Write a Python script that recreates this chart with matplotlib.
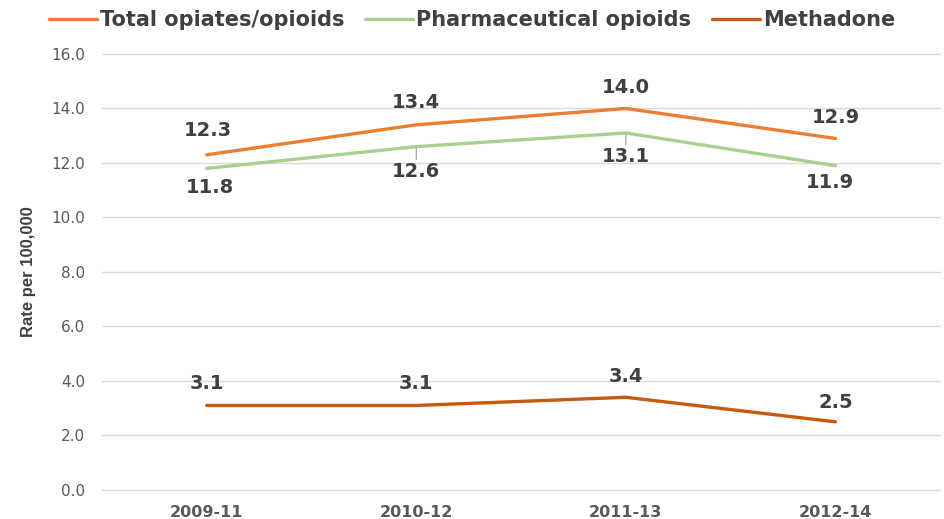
import matplotlib.pyplot as plt

periods = ["2009-11", "2010-12", "2011-13", "2012-14"]
total_opioids = [12.3, 13.4, 14.0, 12.9]
pharma_opioids = [11.8, 12.6, 13.1, 11.9]
methadone = [3.1, 3.1, 3.4, 2.5]

# label offsets in pixels (dx, dy) relative to each point
total_offsets = [(1, 24), (0, 22), (0, 21), (0, 21)]
pharma_offsets = [(3, -19), (0, -25), (0, -24), (-6, -17)]
methadone_offsets = [(0, 22), (0, 22), (0, 21), (0, 19)]

c_total = "#ED7D31"
c_pharma = "#A9D18E"
c_meth = "#C55A11"
label_color = "#404040"
tick_color = "#595959"
narrow = ["Liberation Sans", "DejaVu Sans"]

fig = plt.figure(figsize=(9.44, 5.19), dpi=100)
ax = fig.add_axes([0.108, 0.056, 0.888, 0.84])

x = range(len(periods))
ax.plot(x, total_opioids, color=c_total, lw=2.4, label="Total opiates/opioids", solid_capstyle="round")
ax.plot(x, pharma_opioids, color=c_pharma, lw=2.4, label="Pharmaceutical opioids", solid_capstyle="round")
ax.plot(x, methadone, color=c_meth, lw=2.4, label="Methadone", solid_capstyle="round")

px = 0.72  # pixel -> point


def add_labels(vals, offsets, leader=()):
    for i, (v, (dx, dy)) in enumerate(zip(vals, offsets)):
        arrow = None
        if i in leader:
            arrow = dict(arrowstyle="-", color="#A6A6A6", lw=0.9, shrinkA=0, shrinkB=1)
        ax.annotate(f"{v:.1f}", (i, v), xytext=(dx * px, dy * px), textcoords="offset points",
                    ha="center", va="center", fontsize=14, fontweight="bold",
                    color=label_color, arrowprops=arrow)


add_labels(total_opioids, total_offsets)
add_labels(pharma_opioids, pharma_offsets, leader=(1, 2))
add_labels(methadone, methadone_offsets)

ax.set_xlim(-0.5, 3.5)
ax.set_ylim(0, 16)
ax.set_yticks([0, 2, 4, 6, 8, 10, 12, 14, 16])
ax.set_yticklabels([f"{t:.1f}" for t in ax.get_yticks()])
ax.set_xticks(list(x))
ax.set_xticklabels(periods, fontweight="bold")
ax.tick_params(axis="y", length=0, pad=12, labelsize=11, labelcolor=tick_color)
ax.tick_params(axis="x", length=0, pad=11, labelsize=11.5, labelcolor=tick_color)
ax.grid(axis="y", color="#D9D9D9", lw=1)
for gl in ax.get_ygridlines():
    gl.set_clip_on(False)
ax.set_axisbelow(True)
for s in ax.spines.values():
    s.set_visible(False)

ax.set_ylabel("Rate per 100,000", fontsize=12, fontweight="bold", color=label_color,
              family=narrow, labelpad=11)

fig.legend(loc="center left", bbox_to_anchor=(49 / 944, 1 - 20 / 519), ncol=3, frameon=False,
           prop={"size": 15, "weight": "bold"}, labelcolor=label_color,
           handlelength=2.3, handletextpad=0.15, columnspacing=1.0,
           borderpad=0, borderaxespad=0)

fig.savefig("out.png", dpi=100)
